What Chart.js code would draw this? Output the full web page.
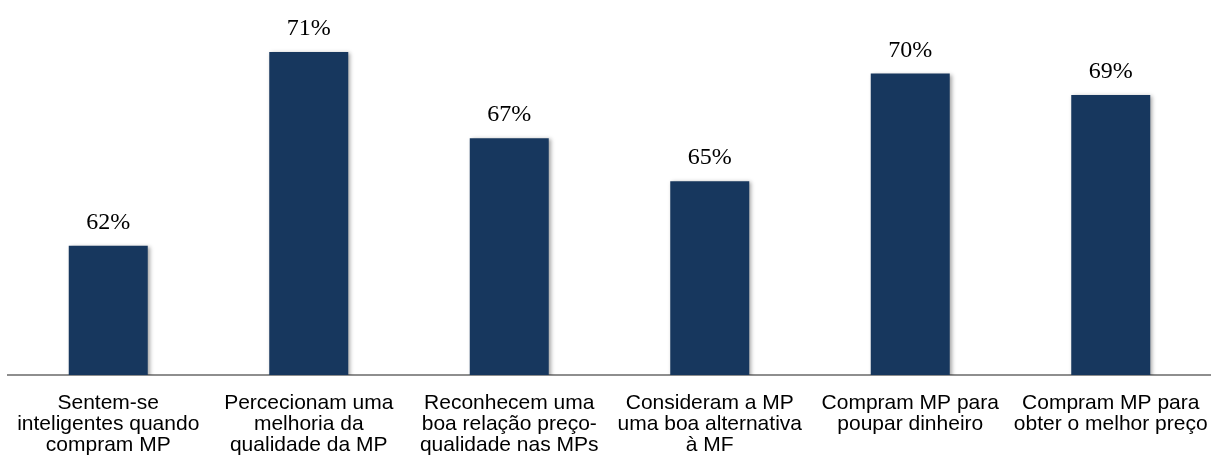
<!DOCTYPE html>
<html>
<head>
<meta charset="utf-8">
<script src="https://cdn.jsdelivr.net/npm/chart.js@4/dist/chart.umd.min.js"></script>
<style>
  html, body { margin: 0; padding: 0; background: #fff; }
  #chart { display: block; }
</style>
</head>
<body>
<canvas id="chart" width="1211" height="459"></canvas>
<script>
// categories (multi-line axis labels) and percentages
const categories = [
    ['Sentem-se', 'inteligentes quando', 'compram MP'],
    ['Percecionam uma', 'melhoria da', 'qualidade da MP'],
    ['Reconhecem uma', 'boa relação preço-', 'qualidade nas MPs'],
    ['Consideram a MP', 'uma boa alternativa', 'à MF'],
    ['Compram MP para', 'poupar dinheiro'],
    ['Compram MP para', 'obter o melhor preço']
];
const percentValues = [62, 71, 67, 65, 70, 69];

const barColor = '#17375E';

// soft shadow behind bars + value labels on top
const barDecor = {
    id: 'barDecor',
    beforeDatasetsDraw(chart) {
        const ctx = chart.ctx;
        ctx.save();
        ctx.shadowColor = 'rgba(0, 0, 0, 0.35)';
        ctx.shadowBlur = 4;
        ctx.shadowOffsetX = 2;
        ctx.shadowOffsetY = 1;
    },
    afterDatasetsDraw(chart) {
        const ctx = chart.ctx;
        ctx.restore();

        ctx.save();
        ctx.font = '24px "Liberation Serif", "Times New Roman", serif';
        ctx.fillStyle = '#000';
        ctx.textAlign = 'center';
        ctx.textBaseline = 'alphabetic';
        const meta = chart.getDatasetMeta(0);
        meta.data.forEach((bar, i) => {
            ctx.fillText(percentValues[i] + '%', bar.x, bar.y - 17);
        });
        ctx.restore();
    }
};

new Chart(document.getElementById('chart'), {
    type: 'bar',
    data: {
        labels: categories,
        datasets: [{
            data: percentValues,
            backgroundColor: barColor,
            borderWidth: 0,
            barPercentage: 0.394,
            categoryPercentage: 1
        }]
    },
    options: {
        responsive: false,
        animation: false,
        devicePixelRatio: 1,
        layout: {
            padding: { top: 9, left: 8, right: 0, bottom: 0 }
        },
        plugins: {
            legend: { display: false },
            tooltip: { enabled: false }
        },
        scales: {
            x: {
                grid: { display: false, drawTicks: false },
                border: { display: true, color: '#8e8e8e', width: 2 },
                ticks: {
                    color: '#000',
                    padding: 17,
                    maxRotation: 0,
                    minRotation: 0,
                    autoSkip: false,
                    font: { family: '"Liberation Sans", Arial, sans-serif', size: 21, lineHeight: 1.02 }
                },
                // keep the label band fixed and stop the edge labels from shrinking the plot
                afterFit(scale) {
                    scale.height = 84;
                    scale.paddingLeft = 0;
                    scale.paddingRight = 0;
                }
            },
            y: {
                display: false,
                min: 56,
                max: 73
            }
        }
    },
    plugins: [barDecor]
});
</script>
</body>
</html>
